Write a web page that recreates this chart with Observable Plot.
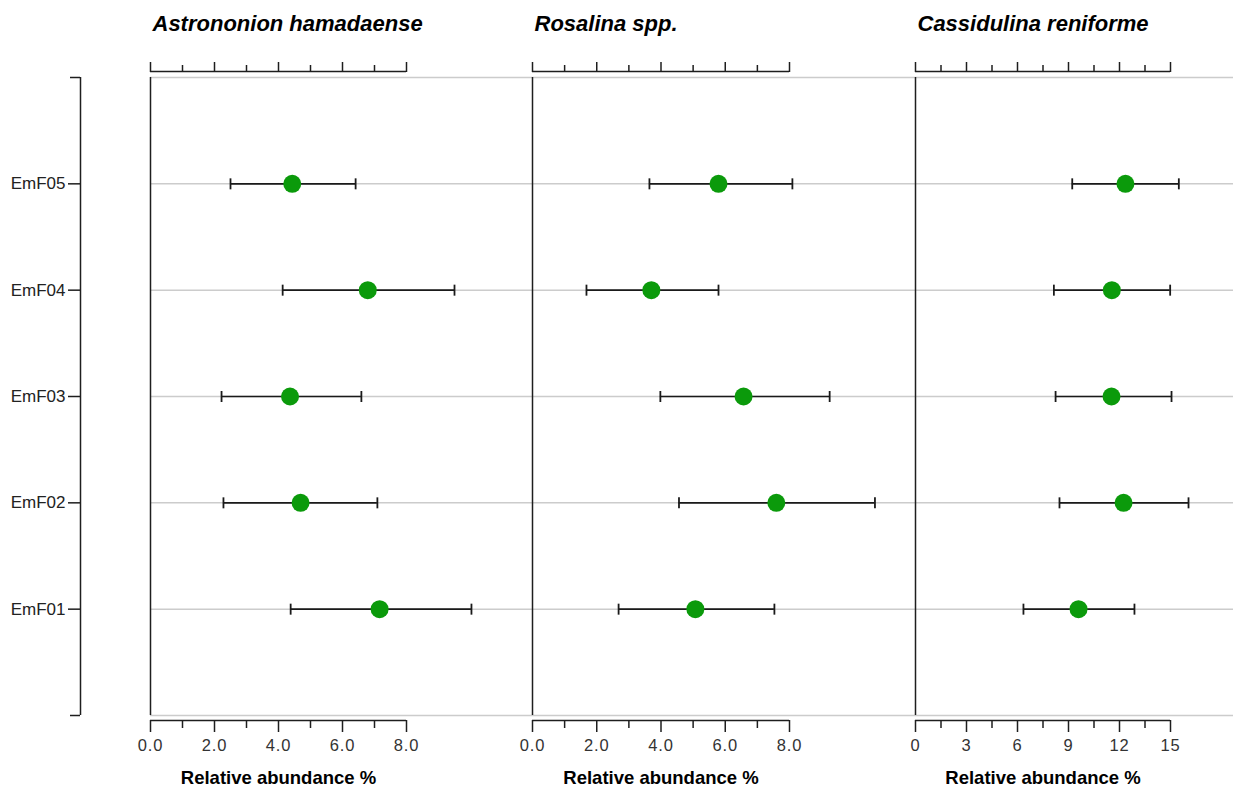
<!DOCTYPE html>
<html><head><meta charset="utf-8">
<script src="https://cdn.jsdelivr.net/npm/d3@7"></script>
<script src="https://cdn.jsdelivr.net/npm/@observablehq/plot@0.6"></script>
<style>
body{margin:0;background:#fff;}
#chart{position:relative;width:1240px;height:791px;font-family:"Liberation Sans",Arial,sans-serif;}
#chart svg{position:absolute;top:0;}
#chart g[aria-label="x-axis tick label"] text{letter-spacing:0.8px;}
</style></head><body><div id="chart"></div>
<script>
// ---- data ----
const rows = ["EmF01", "EmF02", "EmF03", "EmF04", "EmF05"];
const titles = ["Astrononion hamadaense", "Rosalina spp.", "Cassidulina reniforme"];
const xLabel = "Relative abundance %";

const astroMean = [7.16, 4.69, 4.36, 6.79, 4.43];
const astroLo   = [4.38, 2.28, 2.22, 4.13, 2.50];
const astroHi   = [10.03, 7.09, 6.59, 9.50, 6.41];

const rosaMean = [5.07, 7.59, 6.57, 3.70, 5.79];
const rosaLo   = [2.68, 4.56, 3.98, 1.68, 3.64];
const rosaHi   = [7.53, 10.66, 9.25, 5.79, 8.09];

const cassMean = [9.59, 12.24, 11.53, 11.55, 12.35];
const cassLo   = [6.35, 8.47, 8.24, 8.14, 9.22];
const cassHi   = [12.88, 16.06, 15.06, 14.98, 15.49];

const majorA = [0, 2, 4, 6, 8];
const minorA = [1, 3, 5, 7];
const labelsA = ["0.0", "2.0", "4.0", "6.0", "8.0"];
const majorC = [0, 3, 6, 9, 12, 15];
const minorC = [1.5, 4.5, 7.5, 10.5, 13.5];
const labelsC = ["0", "3", "6", "9", "12", "15"];

// ---- layout / panels ----
const panels = [
  {title: titles[0], mean: astroMean, lo: astroLo, hi: astroHi, major: majorA, minor: minorA, labels: labelsA,
   axisMax: 8, domainMax: 382 / 32, left: 0, width: 532, marginLeft: 150, marginRight: 0, first: true},
  {title: titles[1], mean: rosaMean, lo: rosaLo, hi: rosaHi, major: majorA, minor: minorA, labels: labelsA,
   axisMax: 8, domainMax: 383 / 32.125, left: 532, width: 383, marginLeft: 0, marginRight: 0},
  {title: titles[2], mean: cassMean, lo: cassLo, hi: cassHi, major: majorC, minor: minorC, labels: labelsC,
   axisMax: 15, domainMax: 318 / 17, left: 915, width: 325, marginLeft: 0, marginRight: 7}
];

const capSymbol = {
  draw(ctx, size) {
    const h = Math.sqrt(size / Math.PI);
    ctx.moveTo(0, -h);
    ctx.lineTo(0, h);
  }
};

const gridPos = [0, 1, 2, 3, 4, 5, 6];
const rowPos = rows.map((r, i) => i + 1);
const dark = "#1e1e1e";
const chart = document.getElementById("chart");

panels.forEach(p => {
  const data = rows.map((r, i) => ({row: r, pos: i + 1, mean: p.mean[i], lo: p.lo[i], hi: p.hi[i]}));
  const labelMap = new Map(p.major.map((v, i) => [v, p.labels[i]]));
  const marks = [
    Plot.ruleY(gridPos, {stroke: "#cccccc", strokeWidth: 1.5}),
    Plot.ruleX([0], {y1: 0, y2: 6, stroke: dark, strokeWidth: 1.5}),
    // bottom axis
    Plot.ruleY([0], {x1: 0, x2: p.axisMax, dy: 5, stroke: dark, strokeWidth: 1.5}),
    Plot.axisX({anchor: "bottom", ticks: p.major, tickSize: 12, tickPadding: 7, strokeWidth: 1.5, stroke: dark,
                tickFormat: d => labelMap.get(d), fontSize: 16.5, fill: "#333", label: null}),
    Plot.axisX({anchor: "bottom", ticks: p.minor, tickSize: 8, strokeWidth: 1.5, stroke: dark, tickFormat: () => "", label: null}),
    // top axis
    Plot.ruleY([6], {x1: 0, x2: p.axisMax, dy: -6, stroke: dark, strokeWidth: 1.5}),
    Plot.axisX({anchor: "top", ticks: p.major, tickSize: 10, strokeWidth: 1.5, stroke: dark, tickFormat: () => "", label: null}),
    Plot.axisX({anchor: "top", ticks: p.minor, tickSize: 7, strokeWidth: 1.5, stroke: dark, tickFormat: () => "", label: null}),
    // error bars
    Plot.ruleY(data, {y: "pos", x1: "lo", x2: "hi", stroke: "#1a1a1a", strokeWidth: 1.6}),
    Plot.dot(data, {x: "lo", y: "pos", r: 5.5, symbol: capSymbol, stroke: "#1a1a1a", strokeWidth: 1.8, fill: "none"}),
    Plot.dot(data, {x: "hi", y: "pos", r: 5.5, symbol: capSymbol, stroke: "#1a1a1a", strokeWidth: 1.8, fill: "none"}),
    // means
    Plot.dot(data, {x: "mean", y: "pos", r: 9, fill: "#0b9a0b", stroke: "none"}),
    // title and x label
    Plot.text([p.title], {frameAnchor: "top-left", dx: 2, dy: -48, textAnchor: "start", lineAnchor: "middle", fontSize: 22,
                          fontWeight: "bold", fontStyle: "italic", fill: "#000"}),
    Plot.text([xLabel], {x: p.axisMax / 2, frameAnchor: "bottom", dy: 58, lineAnchor: "middle", fontSize: 18.5, fontWeight: "bold", fill: "#000"})
  ];
  if (p.first) {
    marks.push(
      Plot.ruleX([0], {y1: 0, y2: 6, dx: -70, stroke: dark, strokeWidth: 1.5}),
      Plot.axisY({anchor: "left", ticks: [0, 6], tickSize: 10, dx: -70, strokeWidth: 1.5, stroke: dark, tickFormat: () => "", label: null}),
      Plot.axisY({anchor: "left", ticks: rowPos, tickSize: 12, tickPadding: 3, dx: -70, strokeWidth: 1.5, stroke: dark,
                  tickFormat: d => rows[d - 1], fontSize: 17, fill: "#222", label: null})
    );
  }
  const svg = Plot.plot({
    width: p.width,
    height: 791,
    marginTop: 71,
    marginBottom: 71,
    marginLeft: p.marginLeft,
    marginRight: p.marginRight,
    style: {fontFamily: "'Liberation Sans', Arial, sans-serif", background: "transparent", overflow: "visible", color: "#222"},
    x: {domain: [0, p.domainMax], label: null},
    y: p.first ? {domain: [0, 6], insetTop: 6, insetBottom: 5, label: null} : {domain: [0, 6], insetTop: 6, insetBottom: 5, axis: null},
    marks
  });
  svg.style.left = p.left + "px";
  chart.appendChild(svg);
});
</script>
</body></html>
